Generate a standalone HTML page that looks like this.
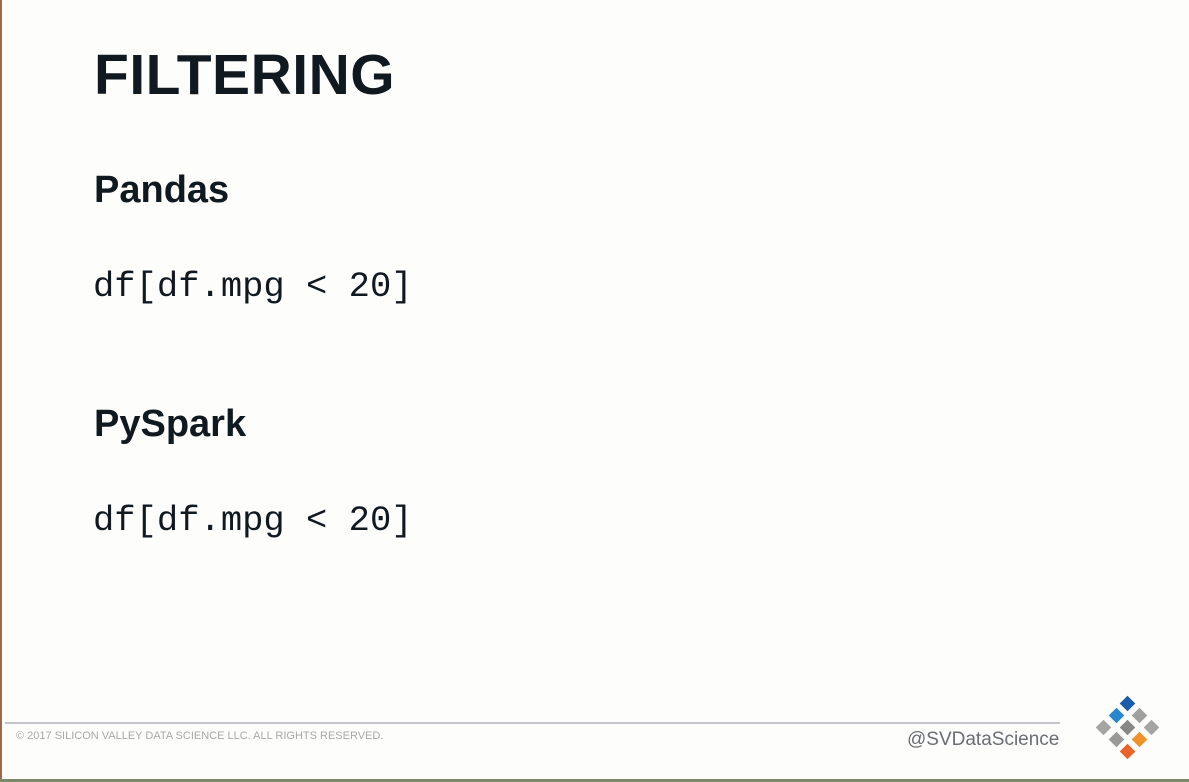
<!DOCTYPE html>
<html><head><style>
body{margin:0;width:1189px;height:782px;background:#fdfdfc;position:relative;overflow:hidden;font-family:"Liberation Sans",sans-serif;color:#101820}
.a{position:absolute;white-space:nowrap}
.d{position:absolute;width:11px;height:11px;transform:rotate(45deg)}
</style></head><body>
<div class="a" style="left:0;top:0;width:2px;height:782px;background:#9a6a4a"></div>
<div class="a" style="left:0;top:779px;width:1189px;height:3px;background:#7d8a6a"></div>
<div class="a" style="left:94px;top:42px;font-size:57px;font-weight:bold;letter-spacing:0.5px">FILTERING</div>
<div class="a" style="left:94px;top:169px;font-size:38px;font-weight:bold">Pandas</div>
<div class="a" style="left:93px;top:266px;font-size:35.5px;font-family:'Liberation Mono',monospace">df[df.mpg &lt; 20]</div>
<div class="a" style="left:94px;top:403px;font-size:38px;font-weight:bold">PySpark</div>
<div class="a" style="left:93px;top:500px;font-size:35.5px;font-family:'Liberation Mono',monospace">df[df.mpg &lt; 20]</div>
<div class="a" style="left:5px;top:722px;width:1055px;height:2px;background:#c4c6cc"></div>
<div class="a" style="left:16px;top:730px;font-size:11px;color:#a8a8a8">© 2017 SILICON VALLEY DATA SCIENCE LLC. ALL RIGHTS RESERVED.</div>
<div class="a" style="left:907px;top:729px;font-size:19px;color:#6a6e74">@SVDataScience</div>
<div class="d" style="left:1122px;top:698px;background:#1d5ca8"></div>
<div class="d" style="left:1111px;top:710px;background:#2a86cc"></div>
<div class="d" style="left:1134px;top:710px;background:#a0a0a0"></div>
<div class="d" style="left:1098px;top:722px;background:#a4a4a4"></div>
<div class="d" style="left:1122px;top:722px;background:#888"></div>
<div class="d" style="left:1146px;top:722px;background:#a4a4a4"></div>
<div class="d" style="left:1111px;top:734px;background:#999"></div>
<div class="d" style="left:1134px;top:734px;background:#f0922a"></div>
<div class="d" style="left:1122px;top:746px;background:#e8642a"></div>
</body></html>
